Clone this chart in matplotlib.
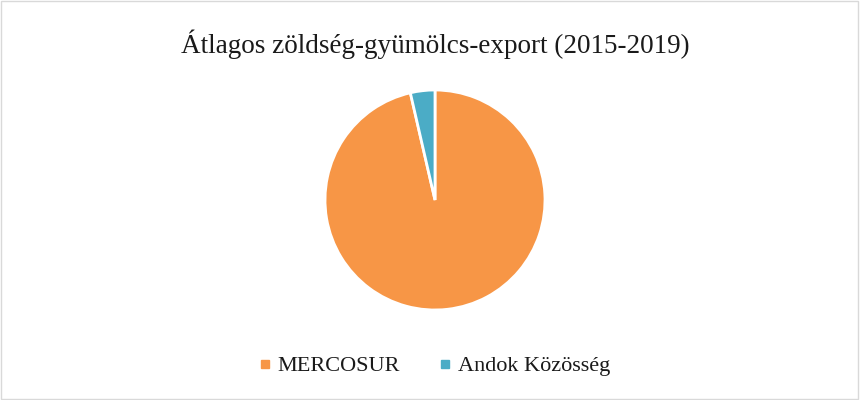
import matplotlib
matplotlib.use("Agg")
from matplotlib import pyplot as plt
from matplotlib.lines import Line2D
from matplotlib.patches import Rectangle

# Adatok
regiok = ["MERCOSUR", "Andok Közösség"]
ertekek = [96.4, 3.6]
szinek = ["#F79646", "#4BACC6"]
cim = "Átlagos zöldség-gyümölcs-export (2015-2019)"

plt.rcParams["font.family"] = ["Liberation Serif", "DejaVu Serif"]

fig = plt.figure(figsize=(8.6, 4.0), dpi=100)
fig.patch.set_facecolor("white")

# keret
fig.patches.append(Rectangle((0.001, 0.002), 0.997, 0.995, transform=fig.transFigure,
                             fill=False, edgecolor="#D9D9D9", linewidth=1))

fig.text(435 / 860, 1 - 44 / 400, cim, ha="center", va="center", fontsize=19.5, color="#1a1a1a")

ax = fig.add_axes([325 / 860, 90 / 400, 220 / 860, 220 / 400])
ax.pie(ertekek, colors=szinek, startangle=90, counterclock=False,
       wedgeprops=dict(edgecolor="white", linewidth=2))
ax.set_xlim(-1.0, 1.0)
ax.set_ylim(-1.0, 1.0)
ax.set_aspect("equal")
ax.axis("off")

kezek = [Line2D([0], [0], marker="s", linestyle="none", markersize=6,
                markerfacecolor=c, markeredgecolor=c) for c in szinek]
fig.legend(kezek, regiok, loc="center", bbox_to_anchor=(433 / 860, 1 - 366 / 400), ncol=2,
           frameon=False, fontsize=16, handletextpad=0.2, columnspacing=1.6,
           handlelength=0.8, labelcolor="#1a1a1a")

fig.savefig("out.png", dpi=100)
